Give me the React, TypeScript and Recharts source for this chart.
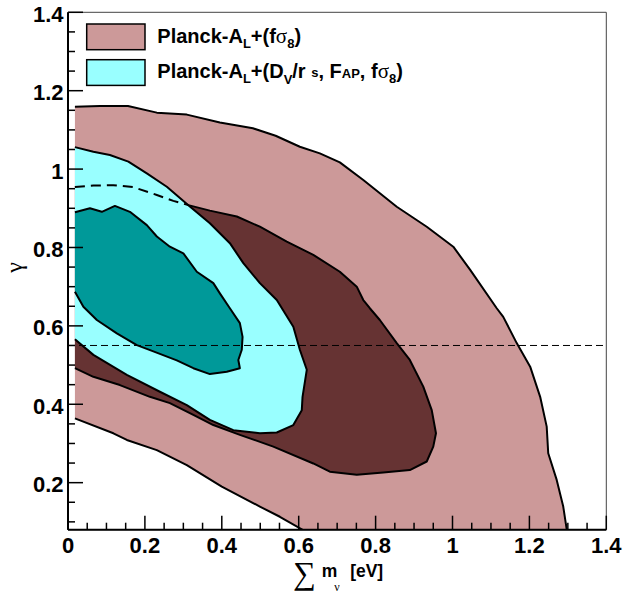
import React from 'react';
import { ComposedChart, Scatter, XAxis, YAxis, ReferenceLine, ReferenceArea, Legend, Label } from 'recharts';

// ---- colours ----
const PINK = '#cc9999';
const MAROON = '#663333';
const CYAN = '#99ffff';
const TEAL = '#009999';

// ---- data: contour outlines (sum m_nu [eV], gamma), clockwise from the upper-left edge ----
const pinkOuter: [number, number][] = [
  [0.018, 1.159], [0.083, 1.161], [0.156, 1.161], [0.231, 1.144], [0.309, 1.139], [0.395, 1.119],
  [0.481, 1.104], [0.54, 1.085], [0.603, 1.057], [0.655, 1.04], [0.707, 1.017], [0.768, 0.972],
  [0.855, 0.904], [0.933, 0.853], [1.002, 0.802], [1.046, 0.743], [1.115, 0.645], [1.132, 0.623],
  [1.167, 0.556], [1.202, 0.496], [1.228, 0.419], [1.245, 0.343], [1.249, 0.275], [1.271, 0.207],
  [1.288, 0.139], [1.297, 0.081], [1.305, 0.04],
  [0.68, 0.04], [0.608, 0.081], [0.551, 0.113], [0.499, 0.139], [0.4, 0.19], [0.309, 0.245],
  [0.231, 0.283], [0.153, 0.309], [0.118, 0.326], [0.018, 0.364],
];

const maroonInner: [number, number][] = [
  [0.018, 0.954], [0.066, 0.958], [0.118, 0.959], [0.17, 0.954], [0.231, 0.934], [0.274, 0.919],
  [0.313, 0.908], [0.369, 0.894], [0.439, 0.879], [0.499, 0.853], [0.569, 0.815], [0.638, 0.781],
  [0.707, 0.738], [0.751, 0.7], [0.768, 0.666], [0.785, 0.645], [0.811, 0.615], [0.855, 0.556],
  [0.889, 0.513], [0.924, 0.445], [0.946, 0.385], [0.957, 0.326], [0.95, 0.292], [0.933, 0.254],
  [0.889, 0.232], [0.82, 0.226], [0.751, 0.22], [0.681, 0.228], [0.638, 0.249], [0.534, 0.292],
  [0.447, 0.322], [0.378, 0.347], [0.326, 0.373], [0.265, 0.403], [0.213, 0.419], [0.135, 0.449],
  [0.066, 0.47], [0.018, 0.492],
];
// part of the inner pink contour hidden below the cyan region (drawn dashed)
const maroonHidden: [number, number][] = maroonInner.slice(0, 7);

const cyanOuter: [number, number][] = [
  [0.018, 1.056], [0.066, 1.044], [0.109, 1.036], [0.157, 1.019], [0.205, 0.989], [0.257, 0.955],
  [0.313, 0.908], [0.369, 0.862], [0.421, 0.811], [0.456, 0.76], [0.499, 0.709], [0.543, 0.666],
  [0.586, 0.598], [0.603, 0.539], [0.621, 0.488], [0.61, 0.419], [0.608, 0.385], [0.586, 0.347],
  [0.543, 0.328], [0.499, 0.326], [0.43, 0.334], [0.369, 0.36], [0.309, 0.398], [0.239, 0.432],
  [0.153, 0.475], [0.066, 0.526], [0.018, 0.566],
];

const tealInner: [number, number][] = [
  [0.018, 0.89], [0.057, 0.9], [0.088, 0.891], [0.122, 0.906], [0.161, 0.891], [0.205, 0.857],
  [0.231, 0.828], [0.265, 0.802], [0.3, 0.785], [0.335, 0.738], [0.378, 0.709], [0.395, 0.683],
  [0.421, 0.645], [0.447, 0.607], [0.454, 0.572], [0.452, 0.539], [0.443, 0.513], [0.447, 0.492],
  [0.413, 0.483], [0.369, 0.477], [0.326, 0.492], [0.283, 0.512], [0.222, 0.535], [0.179, 0.551],
  [0.127, 0.581], [0.075, 0.615], [0.04, 0.649], [0.018, 0.687],
];

const gammaGR = 0.55;

// ---- axes ----
const xDomain: [number, number] = [0, 1.4];
const yDomain: [number, number] = [0.08, 1.4];
const xTicks = [0, 0.05, 0.1, 0.15, 0.2, 0.25, 0.3, 0.35, 0.4, 0.45, 0.5, 0.55, 0.6, 0.65, 0.7, 0.75, 0.8, 0.85, 0.9, 0.95, 1, 1.05, 1.1, 1.15, 1.2, 1.25, 1.3, 1.35, 1.4];
const xMajor = [0, 0.2, 0.4, 0.6, 0.8, 1, 1.2, 1.4];
const yTicks = [0.1, 0.15, 0.2, 0.25, 0.3, 0.35, 0.4, 0.45, 0.5, 0.55, 0.6, 0.65, 0.7, 0.75, 0.8, 0.85, 0.9, 0.95, 1, 1.05, 1.1, 1.15, 1.2, 1.25, 1.3, 1.35, 1.4];
const yMajor = [0.2, 0.4, 0.6, 0.8, 1, 1.2, 1.4];

const toPts = (arr: [number, number][]) => arr.map(([x, y]) => ({ x, y }));

const SANS = "'Liberation Sans', Arial, Helvetica, sans-serif";
const SERIF = "'Liberation Serif', 'DejaVu Serif', 'Times New Roman', serif";

const isMajor = (v: number, list: number[]) => list.some((m) => Math.abs(m - v) < 1e-9);

function contourLine(fill: string, dash?: string, width = 2) {
  return (props: any) => {
    const pts: { x: number; y: number }[] = props.points || [];
    if (!pts.length) return <g />;
    const d = pts.map((p, i) => `${i ? 'L' : 'M'}${p.x.toFixed(2)},${p.y.toFixed(2)}`).join(' ');
    return (
      <g>
        {fill !== 'none' && <path d={`${d} Z`} fill={fill} stroke="none" />}
        <path d={d} fill="none" stroke="#000" strokeWidth={width} strokeDasharray={dash} strokeLinejoin="round" />
      </g>
    );
  };
}

const noShape = () => <g />;

const XTick = (props: any) => {
  const { x, y, payload } = props;
  const v = payload.value as number;
  const major = isMajor(v, xMajor);
  return (
    <g>
      <line x1={x} x2={x} y1={y} y2={y - (major ? 14 : 7)} stroke="#000" strokeWidth={1.5} />
      {major && (
        <text x={x} y={y + 23.6} textAnchor="middle" fontFamily={SANS} fontWeight="bold" fontSize={22} fill="#000">
          {String(v)}
        </text>
      )}
    </g>
  );
};

const YTick = (props: any) => {
  const { x, y, payload } = props;
  const v = payload.value as number;
  const major = isMajor(v, yMajor);
  return (
    <g>
      <line x1={x} x2={x + (major ? 15 : 7)} y1={y} y2={y} stroke="#000" strokeWidth={1.5} />
      {major && (
        <text x={x - 4.5} y={y + 9.5} textAnchor="end" fontFamily={SANS} fontWeight="bold" fontSize={22} fill="#000">
          {String(v)}
        </text>
      )}
    </g>
  );
};

const XTitle = (props: any) => {
  const vb = props.viewBox || { x: 0, y: 0, width: 0, height: 0 };
  const cx = vb.x + vb.width / 2;
  const by = vb.y + 47;
  return (
    <g>
      <text x={cx - 44} y={by + 7} fontFamily={SERIF} fontSize={32} fill="#000">∑</text>
      <text x={cx - 15.5} y={by} fontFamily={SANS} fontWeight="bold" fontSize={17.5} fill="#000">m</text>
      <text x={cx - 3} y={by + 14.5} fontFamily={SERIF} fontSize={12} fill="#000">ν</text>
      <text x={cx + 13} y={by} fontFamily={SANS} fontWeight="bold" fontSize={17.5} fill="#000">[eV]</text>
    </g>
  );
};

const YTitle = (props: any) => {
  const vb = props.viewBox || { x: 0, y: 0, width: 0, height: 0 };
  const cx = vb.x + 21.5;
  const cy = vb.y + vb.height / 2 - 3.5;
  return (
    <text x={cx} y={cy} textAnchor="middle" transform={`rotate(-90, ${cx}, ${cy})`} fontFamily={SERIF} fontSize={24} fill="#000">
      γ
    </text>
  );
};

const legendColors = [PINK, CYAN];

const LegendBox = () => (
  <svg width={360} height={70} style={{ display: 'block', overflow: 'visible' }}>
    {legendColors.map((c, i) => (
      <rect key={i} x={1.7} y={2 + i * 35.7} width={58.3} height={25.7} fill={c} stroke="#000" strokeWidth={1.5} />
    ))}
    <text x={72.3} y={21} fontFamily={SANS} fontWeight="bold" fontSize={20} fill="#000">
      Planck-A<tspan fontSize={13} dy={5}>L</tspan>
      <tspan dy={-5}>+(f</tspan>
      <tspan fontFamily={SERIF} fontWeight="normal" fontSize={21}>σ</tspan>
      <tspan fontSize={13} dy={5}>8</tspan>
      <tspan dy={-5}>)</tspan>
    </text>
    <text x={72.3} y={56} fontFamily={SANS} fontWeight="bold" fontSize={20} fill="#000">
      Planck-A<tspan fontSize={13} dy={5}>L</tspan>
      <tspan dy={-5}>+(D</tspan>
      <tspan fontSize={13} dy={6}>V</tspan>
      <tspan dy={-6}>/r </tspan>
      <tspan fontSize={13} dy={-1}>s</tspan>
      <tspan dy={1}>, F</tspan>
      <tspan fontSize={13}>AP</tspan>
      <tspan>, f</tspan>
      <tspan fontFamily={SERIF} fontWeight="normal" fontSize={21}>σ</tspan>
      <tspan fontSize={13} dy={5}>8</tspan>
      <tspan dy={-5}>)</tspan>
    </text>
  </svg>
);

export default function App() {
  return (
    <div style={{ position: 'absolute', left: 0, top: 0, width: 624, height: 594, background: '#fff' }}>
      <ComposedChart width={624} height={594} margin={{ top: 12.3, right: 17.7, bottom: 0, left: 0 }}>
        <XAxis
          type="number"
          dataKey="x"
          domain={xDomain}
          ticks={xTicks}
          interval={0}
          allowDataOverflow
          height={64.3}
          tickSize={0}
          tickMargin={0}
          tickLine={false}
          tick={XTick}
          axisLine={{ stroke: '#000', strokeWidth: 2 }}
          zIndex={800}
        >
          <Label content={XTitle} />
        </XAxis>
        <YAxis
          type="number"
          dataKey="y"
          domain={yDomain}
          ticks={yTicks}
          interval={0}
          allowDataOverflow
          width={68}
          tickSize={0}
          tickMargin={0}
          tickLine={false}
          tick={YTick}
          axisLine={{ stroke: '#000', strokeWidth: 2 }}
          zIndex={800}
        >
          <Label content={YTitle} />
        </YAxis>
        <Scatter name="pink2" data={toPts(pinkOuter)} fill={PINK} line={contourLine(PINK)} shape={noShape} isAnimationActive={false} legendType="none" zIndex={600} />
        <Scatter name="pink1" data={toPts(maroonInner)} fill={MAROON} line={contourLine(MAROON)} shape={noShape} isAnimationActive={false} legendType="none" zIndex={601} />
        <Scatter name="cyan2" data={toPts(cyanOuter)} fill={CYAN} line={contourLine(CYAN)} shape={noShape} isAnimationActive={false} legendType="none" zIndex={602} />
        <Scatter name="cyan1" data={toPts(tealInner)} fill={TEAL} line={contourLine(TEAL)} shape={noShape} isAnimationActive={false} legendType="none" zIndex={603} />
        <Scatter name="hidden" data={toPts(maroonHidden)} fill="#000" line={contourLine('none', '10 6')} shape={noShape} isAnimationActive={false} legendType="none" zIndex={604} />
        <ReferenceLine y={gammaGR} stroke="#000" strokeWidth={1} strokeDasharray="7 4" zIndex={700} />
        <ReferenceArea x1={xDomain[0]} x2={xDomain[1]} y1={yDomain[0]} y2={yDomain[1]} fill="none" fillOpacity={0} stroke="#444" strokeWidth={1} zIndex={700} />
        <Legend
          content={LegendBox}
          layout="vertical"
          align="center"
          verticalAlign="middle"
          wrapperStyle={{ left: 85, top: 22, width: 360, height: 70 }}
        />
      </ComposedChart>
    </div>
  );
}
